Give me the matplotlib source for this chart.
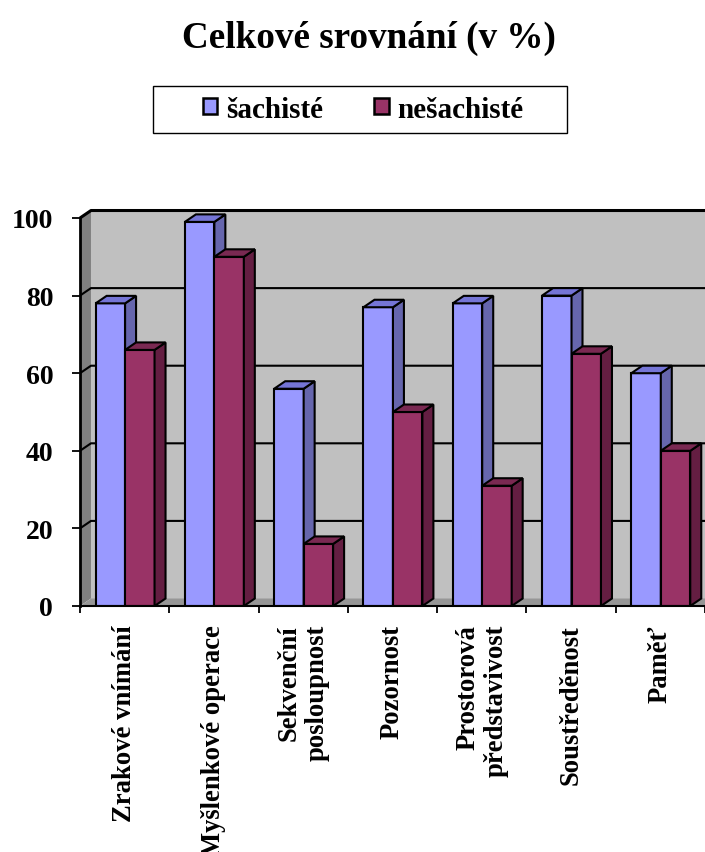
import matplotlib
matplotlib.use('Agg')
import matplotlib.pyplot as plt
from matplotlib.patches import Polygon, Rectangle, Patch

plt.rcParams['font.family'] = ['Liberation Serif', 'DejaVu Serif']
plt.rcParams['font.weight'] = 'bold'

# ---------------------------------------------------------------------------
# Data
# ---------------------------------------------------------------------------
categories = ['Zrakové vnímání', 'Myšlenkové operace', 'Sekvenční\nposloupnost',
              'Pozornost', 'Prostorová\npředstavivost', 'Soustředěnost', 'Paměť']
sachiste = [78, 99, 56, 77, 78, 80, 60]
nesachiste = [66, 90, 16, 50, 31, 65, 40]
series_names = ['šachisté', 'nešachisté']
y_ticks = [0, 20, 40, 60, 80, 100]

# ---------------------------------------------------------------------------
# Style
# ---------------------------------------------------------------------------
W, H = 705, 853
n = len(categories)
bar_w = 0.33          # width of one bar in category units
bar_off = 0.175       # gap from category start to first bar
dx, dy = 0.123, 1.93  # 3D depth offset in data units

blue = ('#9999FF', '#6666AD', '#7575D6')   # front, side, top
red = ('#993366', '#641E42', '#7A2952')
edge_lw = 1.5

fig = plt.figure(figsize=(W / 100, H / 100), dpi=100)
ax = fig.add_axes([80 / W, (H - 607) / H, 625 / W, 388 / H])
ax.set_xlim(0, n)
ax.set_ylim(0, 100)
for s in ax.spines.values():
    s.set_visible(False)
ax.patch.set_visible(False)

# walls and floor
ax.add_patch(Polygon([(dx, dy), (n + dx + 1, dy), (n + dx + 1, 100 + dy), (dx, 100 + dy)],
                     closed=True, facecolor='#C0C0C0', edgecolor='none', zorder=0, clip_on=False))
ax.add_patch(Polygon([(0, 0), (dx, dy), (dx, 100 + dy), (0, 100)],
                     closed=True, facecolor='#808080', edgecolor='none', zorder=0.5, clip_on=False))
ax.add_patch(Polygon([(0, 0), (n + 1, 0), (n + 1 + dx, dy), (dx, dy)],
                     closed=True, facecolor='#969696', edgecolor='none', zorder=0.6, clip_on=False))

# gridlines on back and side walls
for v in y_ticks[1:]:
    lw = 2.2 if v == 100 else 1.5
    ax.plot([0, dx, n + dx + 1], [v, v + dy, v + dy], color='black', lw=lw,
            zorder=1, clip_on=False, solid_capstyle='butt')

# axis lines
ax.plot([0, 0], [0, 100], color='black', lw=2.0, zorder=1.2, clip_on=False)
ax.plot([0, n], [0, 0], color='black', lw=1.5, zorder=6, clip_on=False)


def draw_bars(x0s, vals, cols, z):
    ax.bar(x0s, vals, width=bar_w, align='edge', color=cols[0],
           edgecolor='black', linewidth=edge_lw, zorder=z)
    for x0, v in zip(x0s, vals):
        x1 = x0 + bar_w
        ax.add_patch(Polygon([(x1, 0), (x1 + dx, dy), (x1 + dx, v + dy), (x1, v)],
                             closed=True, facecolor=cols[1], edgecolor='black',
                             linewidth=edge_lw, zorder=z, clip_on=False, joinstyle='miter'))
        ax.add_patch(Polygon([(x0, v), (x0 + dx, v + dy), (x1 + dx, v + dy), (x1, v)],
                             closed=True, facecolor=cols[2], edgecolor='black',
                             linewidth=edge_lw, zorder=z, clip_on=False, joinstyle='miter'))


xs = list(range(n))
draw_bars([i + bar_off for i in xs], sachiste, blue, 3)
draw_bars([i + bar_off + bar_w for i in xs], nesachiste, red, 4)

# ticks and labels
ax.set_yticks(y_ticks)
ax.set_yticklabels([str(t) for t in y_ticks])
ax.tick_params(axis='y', direction='out', length=5.8, width=1.3, pad=13.5,
               labelsize=20)
ax.set_xticks(range(n + 1))
ax.set_xticklabels([])
ax.tick_params(axis='x', which='major', direction='out', length=5, width=1.3)
ax.set_xticks([i + 0.5 for i in xs], minor=True)
ax.set_xticklabels(categories, minor=True, rotation=90, va='top', ha='center')
ax.tick_params(axis='x', which='minor', length=0, pad=13, labelsize=19.2)
for lab in ax.get_xticklabels(minor=True):
    lab.set_multialignment('right')
    lab.set_linespacing(1.15)
for lab in ax.get_yticklabels() + ax.get_xticklabels(minor=True):
    lab.set_fontweight('bold')

# title
fig.text(369 / W, 1 - 38 / H, 'Celkové srovnání (v %)', ha='center', va='center',
         fontsize=26.7, fontweight='bold')

# legend
handles = [Patch(facecolor=blue[0], edgecolor='black', linewidth=1.8),
           Patch(facecolor=red[0], edgecolor='black', linewidth=1.8)]
fig.legend(handles, series_names, loc='center', bbox_to_anchor=(363 / W, 1 - 110 / H),
           ncol=2, frameon=False, prop={'size': 21, 'weight': 'bold'},
           handlelength=0.5, handleheight=0.5, handletextpad=0.3, columnspacing=1.75)
fig.patches.append(Rectangle((153 / W, 1 - 134 / H), 414 / W, 47 / H,
                             transform=fig.transFigure, fill=False,
                             edgecolor='black', linewidth=1.0))

fig.savefig('out.png', dpi=100)
